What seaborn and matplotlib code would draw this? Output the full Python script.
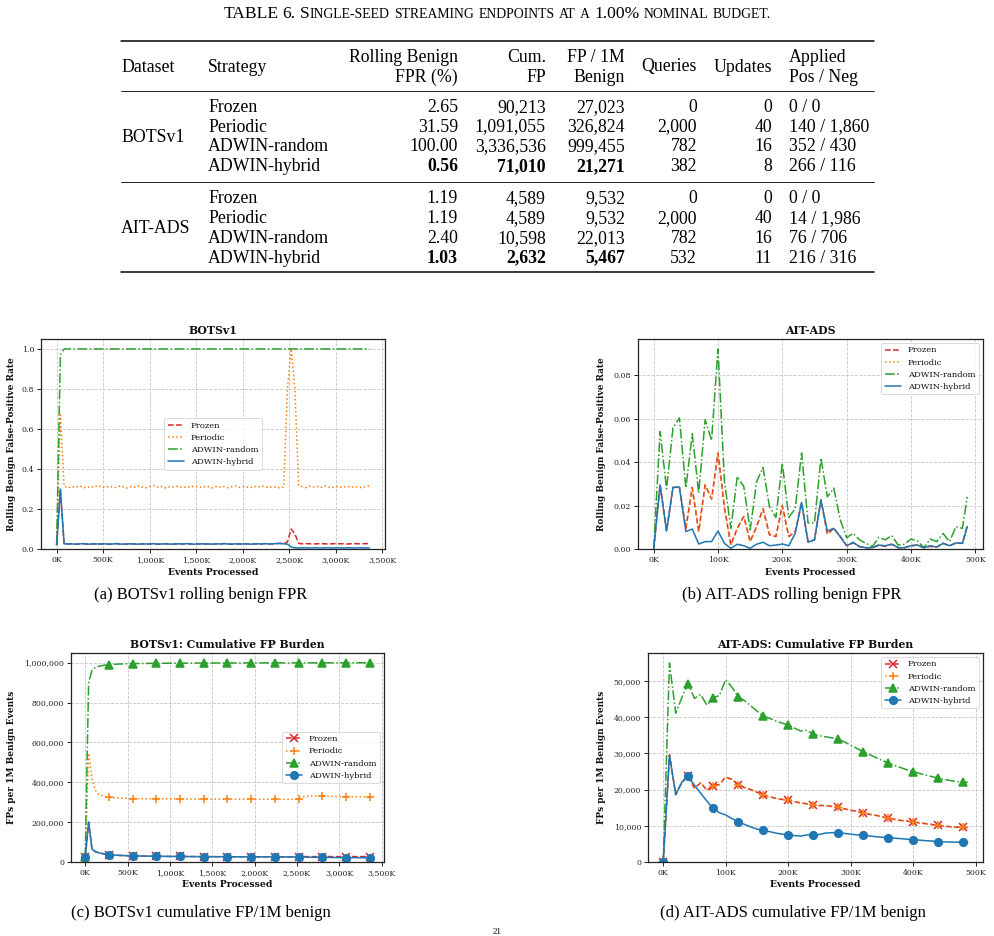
import numpy as np
import pandas as pd
import matplotlib
matplotlib.use("Agg")
import matplotlib.pyplot as plt
from matplotlib.lines import Line2D
from matplotlib.ticker import FuncFormatter
import seaborn as sns

# ---------------- data ----------------
strategies = ["Frozen", "Periodic", "ADWIN-random", "ADWIN-hybrid"]

# Table 6 values
bots_fpr_pct = [2.65, 31.59, 100.00, 0.56]
bots_cum_fp = [90213, 1091055, 3336536, 71010]
bots_fp_per_1m = [27023, 326824, 999455, 21271]
bots_queries = [0, 2000, 782, 382]
bots_updates = [0, 40, 16, 8]
bots_pos = [0, 140, 352, 266]
bots_neg = [0, 1860, 430, 116]

ait_fpr_pct = [1.19, 1.19, 2.40, 1.03]
ait_cum_fp = [4589, 4589, 10598, 2632]
ait_fp_per_1m = [9532, 9532, 22013, 5467]
ait_queries = [0, 2000, 782, 532]
ait_updates = [0, 40, 16, 11]
ait_pos = [0, 14, 76, 216]
ait_neg = [0, 1986, 706, 316]

# BOTSv1 stream (sampled every 40K events)
bots_events = list(range(0, 3_360_001, 40_000))

bots_roll_frozen = [
    0.020, 0.300, 0.026,
    0.025, 0.026, 0.024, 0.025, 0.027, 0.025, 0.024, 0.026, 0.025, 0.025,
    0.026, 0.024, 0.025, 0.027, 0.025, 0.024, 0.025, 0.026, 0.025, 0.024,
    0.026, 0.025, 0.025, 0.027, 0.024, 0.025, 0.026, 0.025, 0.024, 0.025,
    0.026, 0.025, 0.027, 0.025, 0.024, 0.025, 0.026, 0.025, 0.025, 0.024,
    0.026, 0.025, 0.027, 0.025, 0.024, 0.026, 0.025, 0.025, 0.026, 0.024,
    0.025, 0.026, 0.025, 0.027, 0.025, 0.026, 0.027, 0.028, 0.026,
    0.035, 0.100, 0.075, 0.028, 0.026, 0.027, 0.026, 0.025, 0.026, 0.027,
    0.026, 0.025, 0.026, 0.027, 0.026, 0.026, 0.025, 0.026, 0.027, 0.026,
    0.026, 0.027, 0.0265]
bots_roll_periodic = [
    0.020, 0.670, 0.315,
    0.305, 0.312, 0.308, 0.316, 0.310, 0.304, 0.313, 0.309, 0.318, 0.311,
    0.306, 0.314, 0.310, 0.307, 0.315, 0.311, 0.305, 0.313, 0.309, 0.316,
    0.310, 0.306, 0.312, 0.318, 0.309, 0.313, 0.305, 0.311, 0.308, 0.314,
    0.310, 0.306, 0.312, 0.309, 0.315, 0.311, 0.307, 0.313, 0.310, 0.305,
    0.314, 0.309, 0.312, 0.306, 0.311, 0.315, 0.308, 0.312, 0.310, 0.306,
    0.313, 0.309, 0.315, 0.311, 0.307, 0.312, 0.309, 0.305, 0.310,
    0.800, 1.000, 0.800, 0.320, 0.312, 0.307, 0.315, 0.310, 0.313, 0.308,
    0.316, 0.311, 0.306, 0.313, 0.310, 0.309, 0.314, 0.308, 0.312, 0.310,
    0.306, 0.313, 0.316]
bots_roll_random = [
    0.020, 0.970, 1.000,
    1.000, 1.000, 1.000, 1.000, 1.000, 1.000, 1.000, 1.000, 1.000, 1.000,
    1.000, 1.000, 1.000, 1.000, 1.000, 1.000, 1.000, 1.000, 1.000, 1.000,
    1.000, 1.000, 1.000, 1.000, 1.000, 1.000, 1.000, 1.000, 1.000, 1.000,
    1.000, 1.000, 1.000, 1.000, 1.000, 1.000, 1.000, 1.000, 1.000, 1.000,
    1.000, 1.000, 1.000, 1.000, 1.000, 1.000, 1.000, 1.000, 1.000, 1.000,
    1.000, 1.000, 1.000, 1.000, 1.000, 1.000, 1.000, 1.000, 1.000,
    1.000, 1.000, 1.000, 1.000, 1.000, 1.000, 1.000, 1.000, 1.000, 1.000,
    1.000, 1.000, 1.000, 1.000, 1.000, 1.000, 1.000, 1.000, 1.000, 1.000,
    1.000, 1.000, 1.000]
bots_roll_hybrid = [
    0.020, 0.300, 0.026,
    0.025, 0.026, 0.024, 0.025, 0.027, 0.025, 0.024, 0.026, 0.025, 0.025,
    0.026, 0.024, 0.025, 0.027, 0.025, 0.024, 0.025, 0.026, 0.025, 0.024,
    0.026, 0.025, 0.025, 0.027, 0.024, 0.025, 0.026, 0.025, 0.024, 0.025,
    0.026, 0.025, 0.027, 0.025, 0.024, 0.025, 0.026, 0.025, 0.025, 0.024,
    0.026, 0.025, 0.027, 0.025, 0.024, 0.026, 0.025, 0.025, 0.026, 0.024,
    0.025, 0.026, 0.025, 0.027, 0.025, 0.026, 0.027, 0.028, 0.026,
    0.024, 0.010, 0.006, 0.005, 0.006, 0.006, 0.005, 0.006, 0.006, 0.005,
    0.006, 0.006, 0.005, 0.006, 0.006, 0.005, 0.006, 0.006, 0.005, 0.006,
    0.006, 0.005, 0.0056]

# cumulative FPs per 1M benign events, in thousands
bots_cum_frozen_k = [
    23, 200, 65, 52, 46, 42.5, 40, 36.5, 35, 34,
    33.2, 32.5, 31.9, 31.4, 30.9, 30.5, 30.1, 29.8, 29.5, 29.2,
    29.0, 28.8, 28.6, 28.4, 28.2, 28.0, 27.9, 27.8, 27.6, 27.5,
    27.4, 27.3, 27.2, 27.1, 27.0, 26.9, 26.8, 26.75, 26.7, 26.6,
    26.55, 26.5, 26.4, 26.35, 26.3, 26.25, 26.2, 26.15, 26.1, 26.05,
    26.0, 25.95, 25.9, 25.85, 25.8, 25.75, 25.7, 25.65, 25.6, 25.55,
    25.5, 25.5, 25.7, 26.4, 26.9, 27.0, 27.0, 27.0, 27.0, 27.0,
    27.0, 27.0, 27.0, 27.0, 27.0, 27.0, 27.0, 27.0, 27.0, 27.0,
    27.0, 27.0, 27.0, 27.0, 27.023]
bots_cum_periodic_k = [
    23, 545, 418, 360, 340, 333, 328, 324, 322.5, 321.5,
    320.5, 319.8, 319.2, 318.7, 318.3, 318.0, 317.8, 317.6, 317.4, 317.3,
    317.1, 317.0, 316.9, 316.8, 316.7, 316.6, 316.5, 316.4, 316.3, 316.2,
    316.1, 316.0, 315.95, 315.9, 315.85, 315.8, 315.75, 315.7, 315.65, 315.6,
    315.55, 315.5, 315.45, 315.4, 315.35, 315.3, 315.25, 315.2, 315.15, 315.1,
    315.05, 315.0, 314.95, 314.9, 314.9, 314.85, 314.85, 314.8, 314.8, 314.8,
    314.8, 314.9, 315.0, 316.5, 324.0, 330.0, 331.5, 331.3, 331.0, 330.6,
    330.2, 329.9, 329.6, 329.3, 329.0, 328.7, 328.5, 328.2, 327.9, 327.7,
    327.5, 327.3, 327.1, 326.95, 326.824]
bots_cum_random_k = [
    23, 900, 962, 976, 982, 985.5, 988, 990, 991, 992,
    993, 993.6, 994.1, 994.5, 994.9, 995.2, 995.5, 995.8, 996.0, 996.2,
    996.4, 996.6, 996.7, 996.9, 997.0, 997.1, 997.2, 997.3, 997.4, 997.5,
    997.6, 997.7, 997.75, 997.8, 997.9, 997.95, 998.0, 998.05, 998.1, 998.15,
    998.2, 998.25, 998.3, 998.35, 998.4, 998.42, 998.45, 998.5, 998.53, 998.56,
    998.6, 998.62, 998.65, 998.68, 998.7, 998.73, 998.75, 998.78, 998.8, 998.82,
    998.85, 998.87, 998.9, 998.92, 998.94, 998.96, 998.98, 999.0, 999.02, 999.04,
    999.06, 999.08, 999.1, 999.12, 999.14, 999.16, 999.2, 999.23, 999.27, 999.3,
    999.34, 999.37, 999.4, 999.43, 999.455]
bots_cum_hybrid_k = [
    23, 200, 65, 52, 46, 42.5, 40, 36.5, 35, 34,
    33.2, 32.5, 31.9, 31.4, 30.9, 30.5, 30.1, 29.8, 29.5, 29.2,
    29.0, 28.8, 28.6, 28.4, 28.2, 28.0, 27.9, 27.8, 27.6, 27.5,
    27.4, 27.3, 27.2, 27.1, 27.0, 26.9, 26.8, 26.75, 26.7, 26.6,
    26.55, 26.5, 26.4, 26.35, 26.3, 26.25, 26.2, 26.15, 26.1, 26.05,
    26.0, 25.95, 25.9, 25.85, 25.8, 25.75, 25.7, 25.65, 25.6, 25.55,
    25.5, 25.5, 25.5, 25.3, 25.0, 24.6, 24.2, 23.9, 23.6, 23.3,
    23.0, 22.8, 22.6, 22.4, 22.3, 22.1, 22.0, 21.9, 21.8, 21.7,
    21.6, 21.5, 21.4, 21.33, 21.271]

# AIT-ADS stream (sampled every 10K events, last partial window)
ait_events = list(range(0, 480_001, 10_000)) + [487_600]

ait_roll_frozen = [
    0.0, 0.0295, 0.0083, 0.0283, 0.0285, 0.0095, 0.0283, 0.0080, 0.0295, 0.0230,
    0.0442, 0.0190, 0.0018, 0.0095, 0.0150, 0.0034, 0.0103, 0.0185, 0.0065, 0.0057,
    0.0200, 0.0057, 0.0080, 0.0210, 0.0032, 0.0042, 0.0226, 0.0068, 0.0095, 0.0057,
    0.0015, 0.0028, 0.0011, 0.0006, 0.0006, 0.0018, 0.0012, 0.0022, 0.0006, 0.0006,
    0.0015, 0.0018, 0.0006, 0.0012, 0.0009, 0.0026, 0.0015, 0.0028, 0.0026, 0.0110]
ait_roll_periodic = [
    0.0, 0.0295, 0.0083, 0.0283, 0.0285, 0.0095, 0.0283, 0.0080, 0.0295, 0.0230,
    0.0442, 0.0190, 0.0018, 0.0095, 0.0150, 0.0034, 0.0103, 0.0185, 0.0065, 0.0057,
    0.0200, 0.0057, 0.0080, 0.0210, 0.0032, 0.0042, 0.0226, 0.0068, 0.0095, 0.0057,
    0.0015, 0.0028, 0.0011, 0.0006, 0.0006, 0.0018, 0.0012, 0.0022, 0.0006, 0.0006,
    0.0015, 0.0018, 0.0006, 0.0012, 0.0009, 0.0026, 0.0015, 0.0028, 0.0026, 0.0110]
ait_roll_random = [
    0.0, 0.0540, 0.0277, 0.0557, 0.0603, 0.0280, 0.0530, 0.0257, 0.0595, 0.0500,
    0.0920, 0.0310, 0.0095, 0.0334, 0.0288, 0.0088, 0.0310, 0.0375, 0.0195, 0.0145,
    0.0395, 0.0145, 0.0185, 0.0442, 0.0120, 0.0120, 0.0418, 0.0240, 0.0280, 0.0135,
    0.0052, 0.0072, 0.0042, 0.0026, 0.0011, 0.0054, 0.0042, 0.0062, 0.0018, 0.0022,
    0.0046, 0.0037, 0.0006, 0.0046, 0.0034, 0.0071, 0.0034, 0.0103, 0.0095, 0.0240]
ait_roll_hybrid = [
    0.0, 0.0295, 0.0083, 0.0283, 0.0285, 0.0080, 0.0092, 0.0023, 0.0034, 0.0034,
    0.0083, 0.0026, 0.0003, 0.0022, 0.0015, 0.0003, 0.0022, 0.0031, 0.0015, 0.0018,
    0.0023, 0.0015, 0.0072, 0.0215, 0.0032, 0.0042, 0.0226, 0.0083, 0.0095, 0.0057,
    0.0015, 0.0031, 0.0011, 0.0006, 0.0006, 0.0018, 0.0015, 0.0022, 0.0006, 0.0006,
    0.0015, 0.0018, 0.0006, 0.0015, 0.0009, 0.0026, 0.0015, 0.0028, 0.0026, 0.0103]

ait_cum_frozen = [
    0, 29600, 18600, 22100, 23650, 20400, 21900, 19800, 21100, 21400,
    23500, 22800, 21400, 20600, 20000, 19300, 18450, 18000, 17600, 17300,
    17100, 16700, 16300, 16100, 15800, 15600, 15600, 15350, 15070, 14700,
    14300, 14000, 13600, 13200, 12900, 12500, 12150, 11800, 11500, 11300,
    11050, 10800, 10600, 10350, 10140, 9900, 9750, 9620, 9560, 9532]
ait_cum_periodic = [
    0, 29600, 18600, 22100, 23650, 20400, 21900, 19800, 21100, 21400,
    23500, 22800, 21400, 20600, 20000, 19300, 18450, 18000, 17600, 17300,
    17100, 16700, 16300, 16100, 15800, 15600, 15600, 15350, 15070, 14700,
    14300, 14000, 13600, 13200, 12900, 12500, 12150, 11800, 11500, 11300,
    11050, 10800, 10600, 10350, 10140, 9900, 9750, 9620, 9560, 9532]
ait_cum_random = [
    0, 55000, 41100, 45500, 49300, 45200, 46300, 43300, 45400, 46000,
    50400, 48300, 45700, 44600, 43200, 41700, 40400, 39700, 39000, 38400,
    37900, 37000, 36200, 36400, 35300, 34900, 34600, 34300, 34000, 33200,
    32300, 31400, 30500, 29700, 28900, 28100, 27400, 26700, 26100, 25500,
    25000, 24500, 24000, 23600, 23200, 22800, 22500, 22250, 22050, 22013]
ait_cum_hybrid = [
    0, 29600, 18600, 22100, 23650, 21200, 19000, 16800, 14800, 13600,
    13000, 12000, 11100, 10400, 9700, 9100, 8770, 8400, 8000, 7700,
    7490, 7300, 7150, 7500, 7490, 7600, 8000, 8100, 8130, 7900,
    7700, 7500, 7400, 7200, 7000, 6850, 6760, 6600, 6450, 6300,
    6200, 6050, 5900, 5800, 5660, 5570, 5520, 5490, 5480, 5467]

# ---------------- style ----------------
sns.set_theme(style="ticks")
plt.rcParams.update({
    "font.family": ["DejaVu Serif"],
    "axes.edgecolor": "#222222",
    "axes.linewidth": 0.8,
    "xtick.color": "#222222",
    "ytick.color": "#222222",
    "axes.labelcolor": "#111111",
    "text.color": "#111111",
})

palette = ["#d62728", "#ff7f0e", "#2ca02c", "#1f77b4"]
line_styles = ["--", ":", "-.", "-"]
marker_styles = ["x", "+", "^", "o"]

W, H = 994, 936
fig = plt.figure(figsize=(W / 100, H / 100), dpi=100)
fig.patch.set_facecolor("white")


def fx(x):
    return x / W


def fy(y):
    return 1 - y / H


def rect(l, r, t, b):
    return [l / W, 1 - b / H, (r - l) / W, (b - t) / H]


# ---------------- table ----------------
TFONT = "Liberation Serif"
TFS = 12.8


def ttext(x, y, s, ha="left", bold=False, size=TFS):
    fig.text(fx(x), fy(y), s, ha=ha, va="baseline", fontsize=size,
             family=TFONT, fontweight="bold" if bold else "normal", color="black")


renderer = fig.canvas.get_renderer()


def small_caps(pieces, y, cx, big, small):
    gap = 0.25 * big * 100 / 72
    arts = []
    pos = 0.0
    for s, kind in pieces:
        if kind == "gap":
            pos += gap
            continue
        t = fig.text(0, fy(y), s, fontsize=big if kind == "B" else small,
                     family=TFONT, va="baseline", ha="left", color="black")
        w = t.get_window_extent(renderer=renderer).width
        arts.append((t, pos))
        pos += w
    start = cx - pos / 2
    for t, off in arts:
        t.set_x(fx(start + off))


G = ("", "gap")
small_caps([("TABLE", "B"), G, ("6.", "B"), G, ("S", "B"), ("INGLE-SEED", "S"), G,
            ("STREAMING", "S"), G, ("ENDPOINTS", "S"), G, ("AT", "S"), G, ("A", "S"), G,
            ("1.00%", "B"), G, ("NOMINAL", "S"), G, ("BUDGET.", "S")],
           18.3, 497, 12.6, 9.9)

for yy, lw in [(40.5, 1.1), (90.7, 0.6), (181.7, 0.6), (271.7, 1.1)]:
    fig.add_artist(Line2D([fx(121), fx(873.5)], [fy(yy), fy(yy)],
                          transform=fig.transFigure, color="black", lw=lw))

ttext(121, 71.5, "Dataset")
ttext(208, 71.5, "Strategy")
ttext(458, 61.5, "Rolling Benign", ha="right")
ttext(458, 81.5, "FPR (%)", ha="right")
ttext(546, 61.5, "Cum.", ha="right")
ttext(546, 81.5, "FP", ha="right")
ttext(625, 61.5, "FP / 1M", ha="right")
ttext(625, 81.5, "Benign", ha="right")
ttext(697, 71.5, "Queries", ha="right")
ttext(772, 71.5, "Updates", ha="right")
ttext(789, 61.5, "Applied")
ttext(789, 81.5, "Pos / Neg")

groups = [
    ("BOTSv1", 141.7, 111.7, bots_fpr_pct, bots_cum_fp, bots_fp_per_1m, bots_queries,
     bots_updates, bots_pos, bots_neg),
    ("AIT-ADS", 233.3, 203.3, ait_fpr_pct, ait_cum_fp, ait_fp_per_1m, ait_queries,
     ait_updates, ait_pos, ait_neg),
]
for name, name_y, y0, fpr, cum, fp1m, q, u, pos, neg in groups:
    ttext(121, name_y, name)
    best = int(np.argmin(fp1m))
    for i, strat in enumerate(strategies):
        y = y0 + 19.8 * i
        b = (i == best)
        ttext(208, y, strat)
        ttext(458, y, f"{fpr[i]:.2f}", ha="right", bold=b)
        ttext(546, y, f"{cum[i]:,}", ha="right", bold=b)
        ttext(625, y, f"{fp1m[i]:,}", ha="right", bold=b)
        ttext(697, y, f"{q[i]:,}", ha="right")
        ttext(772, y, f"{u[i]:,}", ha="right")
        ttext(789, y, f"{pos[i]:,} / {neg[i]:,}")

# ---------------- plots ----------------
kfmt = FuncFormatter(lambda v, p: f"{v / 1000:,.0f}K")
cfmt = FuncFormatter(lambda v, p: f"{v:,.0f}")


def draw(ax, x, series, title, ylabel, with_markers, mark_step, legend_loc, y_fmt,
         ylab_x, xlab_y):
    for name, y, col, ls, mk in zip(strategies, series, palette, line_styles, marker_styles):
        kw = dict(color=col, linestyle=ls, linewidth=1.1, label=name)
        if with_markers:
            kw.update(marker=mk, markevery=mark_step, markersize=5.5,
                      markeredgecolor=col, markerfacecolor=col, markeredgewidth=1.1)
        sns.lineplot(x=x, y=y, ax=ax, errorbar=None, **kw)
    ax.set_ylim(bottom=0)
    ax.grid(True, linestyle="--", color="#b8b8b8", alpha=0.8, linewidth=0.6)
    ax.set_axisbelow(True)
    for s in ax.spines.values():
        s.set_visible(True)
        s.set_color("#222222")
        s.set_linewidth(0.9)
    ax.tick_params(labelsize=5.6, length=3, width=0.7, pad=2)
    ax.xaxis.set_major_formatter(kfmt)
    if y_fmt is not None:
        ax.yaxis.set_major_formatter(y_fmt)
    ax.set_title(title, fontsize=7.8, fontweight="bold", pad=3.5)
    ax.set_xlabel("Events Processed", fontsize=6.7, fontweight="bold")
    ax.set_ylabel(ylabel, fontsize=6.5, fontweight="bold")
    ax.xaxis.label.set_va("center")
    ax.yaxis.label.set_va("center")
    ax.xaxis.set_label_coords(0.5, xlab_y)
    ax.yaxis.set_label_coords(ylab_x, 0.5)
    leg = ax.legend(loc=legend_loc, fontsize=6, frameon=True, fancybox=True,
                    framealpha=0.8, edgecolor="#cccccc", handlelength=2.0,
                    borderpad=0.4, labelspacing=0.5)
    leg.get_frame().set_linewidth(0.6)


ax_a = fig.add_axes(rect(41, 385, 339, 549))
draw(ax_a, bots_events,
     [bots_roll_frozen, bots_roll_periodic, bots_roll_random, bots_roll_hybrid],
     "BOTSv1", "Rolling Benign False-Positive Rate", False, None, "center", None,
     (12 - 41) / 344, -0.113)

ax_b = fig.add_axes(rect(638, 983, 339, 549))
draw(ax_b, ait_events,
     [ait_roll_frozen, ait_roll_periodic, ait_roll_random, ait_roll_hybrid],
     "AIT-ADS", "Rolling Benign False-Positive Rate", False, None, "upper right", None,
     (601.7 - 638) / 345, -0.113)

ax_c = fig.add_axes(rect(71, 384, 653, 862))
draw(ax_c, bots_events,
     [np.array(bots_cum_frozen_k) * 1000, np.array(bots_cum_periodic_k) * 1000,
      np.array(bots_cum_random_k) * 1000, np.array(bots_cum_hybrid_k) * 1000],
     "BOTSv1: Cumulative FP Burden", "FPs per 1M Benign Events", True, 7,
     "center right", cfmt, (11.7 - 71) / 313, -0.110)

ax_d = fig.add_axes(rect(648, 983, 653, 862))
draw(ax_d, ait_events,
     [ait_cum_frozen, ait_cum_periodic, ait_cum_random, ait_cum_hybrid],
     "AIT-ADS: Cumulative FP Burden", "FPs per 1M Benign Events", True, 4,
     "upper right", cfmt, (601.7 - 648) / 335, -0.110)

# captions
CFS = 12.0
for cx, cy, s in [(201, 595, "(a) BOTSv1 rolling benign FPR"),
                  (792, 595, "(b) AIT-ADS rolling benign FPR"),
                  (201, 913, "(c) BOTSv1 cumulative FP/1M benign"),
                  (792.5, 913, "(d) AIT-ADS cumulative FP/1M benign")]:
    fig.text(fx(cx), fy(cy), s, ha="center", va="center", fontsize=CFS,
             family=TFONT, color="black")

# page number (kept fully inside the canvas)
fig.text(fx(497), fy(934.5), "21", ha="center", va="baseline", fontsize=6.5,
         family=TFONT, color="black")

fig.savefig("out.png", dpi=100, facecolor="white")
